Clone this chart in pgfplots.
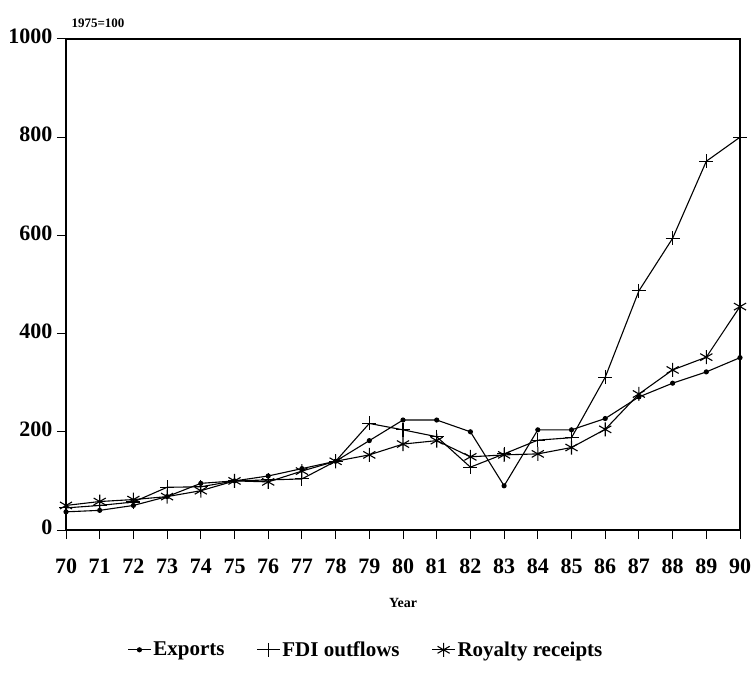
\documentclass[border=0pt]{standalone}
\usepackage{fontspec}
\setmainfont{Liberation Serif}
\usepackage{pgfplots}
\pgfplotsset{compat=1.18}
\begin{document}
\bfseries
\begin{tikzpicture}
\useasboundingbox (0,0) rectangle (752pt,672pt);
\begin{axis}[
  at={(66pt,142pt)}, anchor=south west,
  scale only axis, width=674pt, height=491pt,
  clip=false,
  xmin=70, xmax=90, ymin=0, ymax=1000,
  xtick={70,...,90}, ytick={0,200,...,1000},
  xtick pos=left, ytick pos=left, tick align=outside,
  major tick length=9pt,
  xtick style={draw=black, line width=1pt},
  ytick style={draw=black, line width=1pt},
  /pgf/number format/assume math mode=true,
  /pgf/number format/1000 sep={},
  typeset ticklabels with strut,
  tick label style={font=\fontsize{22}{24}\selectfont\bfseries},
  yticklabel style={xshift=-1pt},
  xticklabel style={yshift=-14pt},
  axis line style={line width=1.1pt},
  xlabel={Year}, xlabel style={font=\fontsize{14}{16}\selectfont\bfseries, yshift=-11pt},
  legend columns=3,
  legend style={draw=none, at={(0.445,-0.244)}, anchor=center,
    font=\fontsize{21}{24}\selectfont\bfseries,
    /tikz/every even column/.append style={column sep=30pt}},
  legend image code/.code={\draw[mark repeat=2,mark phase=2] plot coordinates {(0cm,0cm) (0.4cm,0cm) (0.8cm,0cm)};},
  every axis plot/.append style={black, line width=1.1pt, mark options={solid, line width=1.1pt}},
]
\node[anchor=south west, font=\fontsize{13}{15}\selectfont\bfseries] at (axis description cs:0,1) [xshift=2pt, yshift=8pt] {1975=100};
\pgfplotsinvokeforeach{70,71,72,73,74,75,76,77,78,79,80,81,82,83,84,85,86,87,88,89,90}{\draw[line width=1pt] (axis cs:#1,0) -- (axis cs:#1,-18.3);}
\pgfplotsinvokeforeach{0,200,400,600,800,1000}{\draw[line width=1pt] (axis cs:70,#1) -- (axis cs:69.733,#1);}
\addplot[mark=*, mark size=2pt] coordinates {
(70,37) (71,40) (72,50) (73,68) (74,95) (75,100) (76,110) (77,125) (78,140) (79,182) (80,224) (81,224) (82,200) (83,90) (84,204) (85,204) (86,227) (87,271) (88,299) (89,322) (90,351)};
\addlegendentry{Exports}
\addplot[mark=+, mark size=7pt] coordinates {
(70,45) (71,50) (72,57) (73,87) (74,88) (75,100) (76,102) (77,104) (78,140) (79,217) (80,204) (81,190) (82,128) (83,155) (84,183) (85,188) (86,311) (87,487) (88,594) (89,751) (90,800)};
\addlegendentry{FDI outflows}
\addplot[mark=asterisk, mark size=7pt] coordinates {
(70,50) (71,58) (72,62) (73,68) (74,80) (75,100) (76,98) (77,120) (78,140) (79,153) (80,175) (81,182) (82,149) (83,153) (84,155) (85,168) (86,205) (87,277) (88,326) (89,352) (90,455)};
\addlegendentry{Royalty receipts}
\end{axis}
\end{tikzpicture}
\end{document}
